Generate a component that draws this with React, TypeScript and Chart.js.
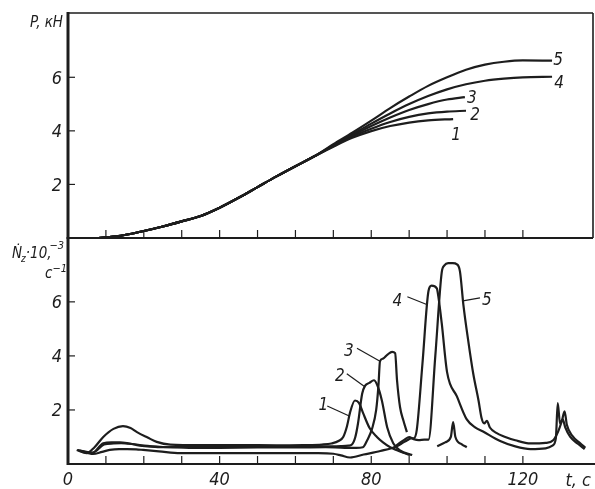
import React, { useEffect, useRef } from "react";
import { Chart, registerables } from "chart.js";

Chart.register(...registerables);

// ---------- top panel: load P, kN vs time t, s ----------
const baseT = [8, 12, 16, 20, 25, 30, 35, 40, 45, 50, 55, 60, 65];
const baseP = [0, 0.05, 0.14, 0.26, 0.43, 0.62, 0.82, 1.13, 1.5, 1.9, 2.3, 2.68, 3.05];
const p1T = [70, 75, 80, 85, 90, 95, 101.6];
const p1V = [3.41, 3.74, 3.99, 4.18, 4.31, 4.39, 4.44];
const p2T = [70, 75, 80, 85, 90, 95, 100, 105];
const p2V = [3.43, 3.79, 4.08, 4.33, 4.52, 4.65, 4.72, 4.75];
const p3T = [70, 75, 80, 85, 90, 95, 100, 104.7];
const p3V = [3.45, 3.83, 4.18, 4.5, 4.78, 5.0, 5.17, 5.26];
const p4T = [70, 75, 80, 85, 90, 95, 100, 105, 110, 115, 120, 127.7];
const p4V = [3.47, 3.87, 4.27, 4.65, 5.0, 5.3, 5.55, 5.74, 5.87, 5.95, 6.0, 6.02];
const p5T = [70, 75, 80, 85, 90, 95, 100, 105, 110, 115, 120, 127.7];
const p5V = [3.5, 3.93, 4.38, 4.85, 5.28, 5.68, 6.0, 6.28, 6.47, 6.58, 6.63, 6.62];

// ---------- bottom panel: N_z * 10^-3, 1/s vs time t, s ----------
const n1T = [2.3, 4.9, 7, 9.3, 12, 14.5, 16.5, 18.2, 21, 23.4, 27, 35, 45, 55, 62, 67, 69.5, 71.5, 72.6, 73.6, 74.4, 75.7, 76.8, 77.8, 79.6, 81.5, 83.1, 85, 86.8, 90.2];
const n1V = [0.52, 0.4, 0.62, 1.0, 1.3, 1.4, 1.33, 1.18, 0.98, 0.82, 0.72, 0.7, 0.7, 0.69, 0.7, 0.72, 0.76, 0.86, 1.0, 1.4, 1.9, 2.35, 2.25, 1.9, 1.32, 1.0, 0.8, 0.62, 0.51, 0.33];
const n2T = [2.6, 6.3, 9.3, 11.5, 13.7, 16, 18.2, 21, 24.3, 30, 40, 50, 60, 68, 72, 74, 74.9, 75.8, 76.5, 77.6, 78.4, 79.5, 80.7, 81.5, 82.8, 84.2, 85.8, 87.6, 90.8];
const n2V = [0.52, 0.4, 0.77, 0.8, 0.8, 0.76, 0.7, 0.65, 0.62, 0.63, 0.64, 0.64, 0.64, 0.65, 0.66, 0.68, 0.72, 1.0, 1.5, 2.6, 2.9, 3.0, 3.1, 2.95, 2.35, 1.36, 0.77, 0.5, 0.33];
const n3T = [3, 6.5, 9.5, 12, 14, 17, 20, 25, 32, 40, 50, 60, 68, 73, 76, 77.8, 79, 80.2, 81.3, 81.9, 82.3, 83.1, 84.3, 85.5, 86.3, 86.8, 87.6, 88.5, 89.4];
const n3V = [0.5, 0.42, 0.72, 0.76, 0.77, 0.74, 0.68, 0.63, 0.6, 0.6, 0.61, 0.61, 0.62, 0.6, 0.6, 0.62, 0.9, 1.3, 2.0, 2.9, 3.8, 3.9, 4.05, 4.15, 4.1, 3.1, 2.1, 1.6, 1.18];
const n4T = [3.2, 6.6, 9, 11, 13.5, 15.6, 18, 19.8, 24, 29.6, 40, 50, 60, 66, 70, 72, 74.4, 78, 82.4, 86.8, 88.5, 89.5, 90.5, 91.2, 92, 93.5, 95.1, 95.9, 97.3, 97.7, 98.6, 100, 102.6, 105.2, 107.5, 109.5, 114, 118, 122, 126, 127.8, 128.7, 129.2, 129.8, 130.5, 131.2, 132.5, 134.5, 136.3];
const n4V = [0.48, 0.37, 0.45, 0.52, 0.55, 0.55, 0.54, 0.52, 0.47, 0.4, 0.4, 0.4, 0.4, 0.4, 0.38, 0.32, 0.24, 0.35, 0.48, 0.66, 0.8, 0.88, 0.95, 0.95, 1.25, 3.7, 6.4, 6.6, 6.5, 6.2, 5.2, 3.4, 2.5, 1.65, 1.35, 1.2, 0.85, 0.65, 0.55, 0.58, 0.68, 0.95, 2.25, 1.5, 1.65, 1.35, 1.0, 0.75, 0.55];
const n5T = [86, 87.5, 88.8, 90, 91.2, 92.5, 94, 95.1, 96.9, 98.6, 99.3, 100.3, 101.5, 102.6, 103.4, 104.3, 105.6, 106.9, 108.3, 109.1, 109.8, 110.5, 111.3, 113, 115, 118, 122, 126, 128, 129.3, 130.3, 131, 131.6, 133, 135, 136.5];
const n5V = [0.62, 0.78, 0.9, 1.0, 0.92, 0.88, 0.9, 0.9, 4.0, 7.1, 7.35, 7.43, 7.43, 7.39, 7.13, 5.9, 4.55, 3.35, 2.35, 1.7, 1.5, 1.6, 1.35, 1.15, 1.02, 0.88, 0.76, 0.78, 0.88, 1.2, 1.6, 1.95, 1.45, 1.05, 0.78, 0.6];
const spikeT = [97.4, 99.5, 101, 101.6, 102.2, 103.9, 105.2];
const spikeV = [0.66, 0.8, 1.0, 1.55, 1.0, 0.73, 0.62];

// ---------- axes / labels ----------
const X_MIN = 0;
const X_MAX = 138.5;
const X_STEP = 10;
const xLabeled = [0, 40, 80, 120];
const Y_MAX = 8.4;
const Y_STEP = 2;
const yLabeled = [2, 4, 6];
const curveNames = ["1", "2", "3", "4", "5"];
const topTitle = "P, кН";
const xTitle = "t, с";
// points on the bottom curves (time, s) where the leader lines touch
const leaderAtT = [74.2, 78.3, 82.3, 94.8, 104.2];

// ---------- styles ----------
const INK = "#1d1d1d";
const FAMILY = "'DejaVu Sans Condensed', 'DejaVu Sans', sans-serif";
const font = (px: number) => `italic ${px}px ${FAMILY}`;
const topLabelOffsets: [number, number][] = [[3, 15], [9, 3], [7, 0], [7, 5], [6, -2]];
const leaderOffsets: [number, number][] = [[-22, -10], [-18, -13], [-23, -13], [-20, -8], [17, -3]];
const leaderTextOffsets: [number, number][] = [[-26, -12], [-25, -12], [-31, -11], [-30, -5], [24, -2]];

function pts(t: number[], v: number[]) {
  return t.map((x, i) => ({ x, y: v[i] }));
}
function interp(t: number[], v: number[], x: number) {
  for (let i = 0; i < t.length - 1; i++) {
    if (x >= t[i] && x <= t[i + 1]) {
      const f = (x - t[i]) / (t[i + 1] - t[i]);
      return v[i] + f * (v[i + 1] - v[i]);
    }
  }
  return v[v.length - 1];
}
function seg(ctx: CanvasRenderingContext2D, x1: number, y1: number, x2: number, y2: number, w: number) {
  ctx.lineWidth = w;
  ctx.beginPath();
  ctx.moveTo(x1, y1);
  ctx.lineTo(x2, y2);
  ctx.stroke();
}

function drawAxes(chart: any, box: boolean) {
  const { ctx, chartArea: a, scales } = chart;
  const xs = scales.x;
  const ys = scales.y;
  ctx.save();
  ctx.strokeStyle = INK;
  ctx.fillStyle = INK;
  ctx.lineCap = "butt";
  seg(ctx, a.left, a.top - (box ? 1 : 0), a.left, a.bottom + 1, 3);
  seg(ctx, a.left, a.bottom, a.right + (box ? 0 : 2), a.bottom, 2);
  if (box) {
    seg(ctx, a.left, a.top, a.right, a.top, 1.6);
    seg(ctx, a.right, a.top, a.right, a.bottom, 1.6);
  }
  xs.ticks.forEach((t: any) => {
    if (t.value > X_MIN && t.value % X_STEP === 0) {
      const px = xs.getPixelForValue(t.value);
      seg(ctx, px, a.bottom, px, a.bottom - 8, 1.2);
    }
  });
  ctx.font = font(18);
  ctx.textAlign = "right";
  ctx.textBaseline = "alphabetic";
  ys.ticks.forEach((t: any) => {
    if (t.value > 0 && t.value % Y_STEP === 0) {
      const py = ys.getPixelForValue(t.value);
      seg(ctx, a.left, py, a.left + 7, py, 1.2);
      if (yLabeled.includes(t.value)) ctx.fillText(String(t.value), a.left - 6, py + 6.5);
    }
  });
  ctx.restore();
}

const topDecor = {
  id: "topDecor",
  afterDraw(chart: any) {
    drawAxes(chart, true);
    const { ctx, chartArea: a } = chart;
    ctx.save();
    ctx.fillStyle = INK;
    ctx.font = font(15);
    ctx.textAlign = "right";
    ctx.textBaseline = "alphabetic";
    ctx.fillText(topTitle, a.left - 5, a.top + 14);
    ctx.font = font(17);
    ctx.textAlign = "center";
    curveNames.forEach((name, i) => {
      const meta = chart.getDatasetMeta(i);
      const last = meta.data[meta.data.length - 1];
      const [dx, dy] = topLabelOffsets[i];
      ctx.fillText(name, last.x + dx, last.y + dy + 6);
    });
    ctx.restore();
  },
};

const bottomSeries: [number[], number[]][] = [
  [n1T, n1V],
  [n2T, n2V],
  [n3T, n3V],
  [n4T, n4V],
  [n5T, n5V],
];

const bottomDecor = {
  id: "bottomDecor",
  afterDraw(chart: any) {
    drawAxes(chart, false);
    const { ctx, chartArea: a, scales } = chart;
    const xs = scales.x;
    const ys = scales.y;
    ctx.save();
    ctx.fillStyle = INK;
    ctx.strokeStyle = INK;
    // x tick labels
    ctx.font = font(18);
    ctx.textAlign = "center";
    ctx.textBaseline = "alphabetic";
    xs.ticks.forEach((t: any) => {
      if (xLabeled.includes(t.value)) ctx.fillText(String(t.value), xs.getPixelForValue(t.value), a.bottom + 21);
    });
    ctx.textAlign = "right";
    ctx.fillText(xTitle, a.right - 2, a.bottom + 22);
    // y title: N_z * 10^-3, c^-1
    ctx.textAlign = "left";
    let x = a.left - 56;
    const by = a.top + 21;
    ctx.font = font(15);
    ctx.fillText("Ṅ", x, by);
    x += ctx.measureText("Ṅ").width;
    ctx.font = font(10);
    ctx.fillText("z", x - 1, by + 4);
    x += ctx.measureText("z").width - 1;
    ctx.font = font(15);
    ctx.fillText("·10,", x, by);
    x += ctx.measureText("·10,").width;
    ctx.font = font(11);
    ctx.fillText("−3", x - 2, by - 9);
    ctx.font = font(15);
    const cx = a.left - 23;
    ctx.fillText("с", cx, a.top + 41);
    const cw = ctx.measureText("с").width;
    ctx.font = font(11);
    ctx.fillText("−1", cx + cw, a.top + 35);
    // curve labels with leader lines
    ctx.font = font(17);
    ctx.textAlign = "center";
    curveNames.forEach((name, i) => {
      const [tArr, vArr] = bottomSeries[i];
      const t = leaderAtT[i];
      const px = xs.getPixelForValue(t);
      const py = ys.getPixelForValue(interp(tArr, vArr, t));
      const [lx, ly] = leaderOffsets[i];
      const [tx, ty] = leaderTextOffsets[i];
      seg(ctx, px, py, px + lx, py + ly, 1.2);
      ctx.fillText(name, px + tx, py + ty + 6);
    });
    ctx.restore();
  },
};

function lineDs(data: { x: number; y: number }[]) {
  return {
    data,
    borderColor: INK,
    borderWidth: 2.2,
    pointRadius: 0,
    fill: false,
    cubicInterpolationMode: "monotone" as const,
  };
}

function scalesCfg(xHeight: number) {
  return {
    x: {
      type: "linear" as const,
      min: X_MIN,
      max: X_MAX,
      ticks: { display: false, stepSize: X_STEP },
      grid: { display: false },
      border: { display: false },
      afterFit: (s: any) => {
        s.height = xHeight;
      },
    },
    y: {
      type: "linear" as const,
      min: 0,
      max: Y_MAX,
      ticks: { display: false, stepSize: Y_STEP },
      grid: { display: false },
      border: { display: false },
      afterFit: (s: any) => {
        s.width = 68;
      },
    },
  };
}

export default function App() {
  const topRef = useRef<HTMLCanvasElement>(null);
  const botRef = useRef<HTMLCanvasElement>(null);

  useEffect(() => {
    const topData = [
      [p1T, p1V],
      [p2T, p2V],
      [p3T, p3V],
      [p4T, p4V],
      [p5T, p5V],
    ].map(([t, v]) => lineDs([...pts(baseT, baseP), ...pts(t, v)]));

    const top = new Chart(topRef.current as HTMLCanvasElement, {
      type: "line",
      data: { datasets: topData },
      options: {
        responsive: false,
        animation: false,
        devicePixelRatio: 1,
        events: [],
        layout: { padding: { top: 13, right: 2, left: 0, bottom: 0 } },
        plugins: { legend: { display: false }, tooltip: { enabled: false } },
        scales: scalesCfg(2),
      } as any,
      plugins: [topDecor],
    });

    const botData = [...bottomSeries.map(([t, v]) => lineDs(pts(t, v))), lineDs(pts(spikeT, spikeV))];
    const bot = new Chart(botRef.current as HTMLCanvasElement, {
      type: "line",
      data: { datasets: botData },
      options: {
        responsive: false,
        animation: false,
        devicePixelRatio: 1,
        events: [],
        layout: { padding: { top: 7, right: 2, left: 0, bottom: 0 } },
        plugins: { legend: { display: false }, tooltip: { enabled: false } },
        scales: scalesCfg(25),
      } as any,
      plugins: [bottomDecor],
    });

    return () => {
      top.destroy();
      bot.destroy();
    };
  }, []);

  return (
    <div style={{ position: "absolute", left: 0, top: 0, width: 595, height: 489, background: "#fff", overflow: "hidden" }}>
      <canvas ref={topRef} width={595} height={240} style={{ position: "absolute", left: 0, top: 0 }} />
      <canvas ref={botRef} width={595} height={259} style={{ position: "absolute", left: 0, top: 230 }} />
    </div>
  );
}
